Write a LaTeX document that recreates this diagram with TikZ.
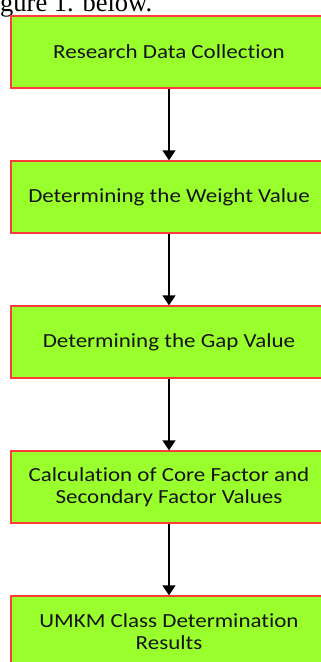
\documentclass[tikz,border=0pt]{standalone}
\usepackage{fontspec}
\setmainfont{Liberation Serif}
\newfontfamily\boxfont[FakeStretch=1.15,Ligatures=CommonOff]{Carlito}
\usetikzlibrary{arrows.meta}
\definecolor{stepfill}{RGB}{153,255,45}
\definecolor{stepline}{RGB}{255,60,55}
\definecolor{steptext}{RGB}{20,20,20}
\tikzset{
  stepbox/.style={draw=stepline, fill=stepfill, line width=1.3pt,
    minimum width=316pt, minimum height=72pt, inner sep=0pt,
    align=center, text=steptext, font=\boxfont\fontsize{20}{22}\selectfont},
  flow/.style={line width=1.3pt, -{Triangle[length=10pt,width=13pt]}}
}
\begin{document}
\begin{tikzpicture}[x=1pt,y=-1pt]
  \useasboundingbox (0,0) rectangle (321,662);
  \clip (0,0) rectangle (321,662);
  % caption line running in from the text above
  \node[anchor=base west, inner sep=0pt, font=\fontsize{26.5}{30}\selectfont]
    (cap) at (0,11) {gure 1. below.};
  % process steps
  \node[stepbox] (s1) at (169,52)  {Research Data Collection};
  \node[stepbox] (s2) at (169,197) {Determining the Weight Value};
  \node[stepbox] (s3) at (169,342) {Determining the Gap Value};
  \node[stepbox] (s4) at (169,487) {Calculation of Core Factor and\\Secondary Factor Values};
  \node[stepbox] (s5) at (169,632) {UMKM Class Determination\\Results};
  % connectors
  \draw[flow] (s1) -- (s2);
  \draw[flow] (s2) -- (s3);
  \draw[flow] (s3) -- (s4);
  \draw[flow] (s4) -- (s5);
\end{tikzpicture}
\end{document}
